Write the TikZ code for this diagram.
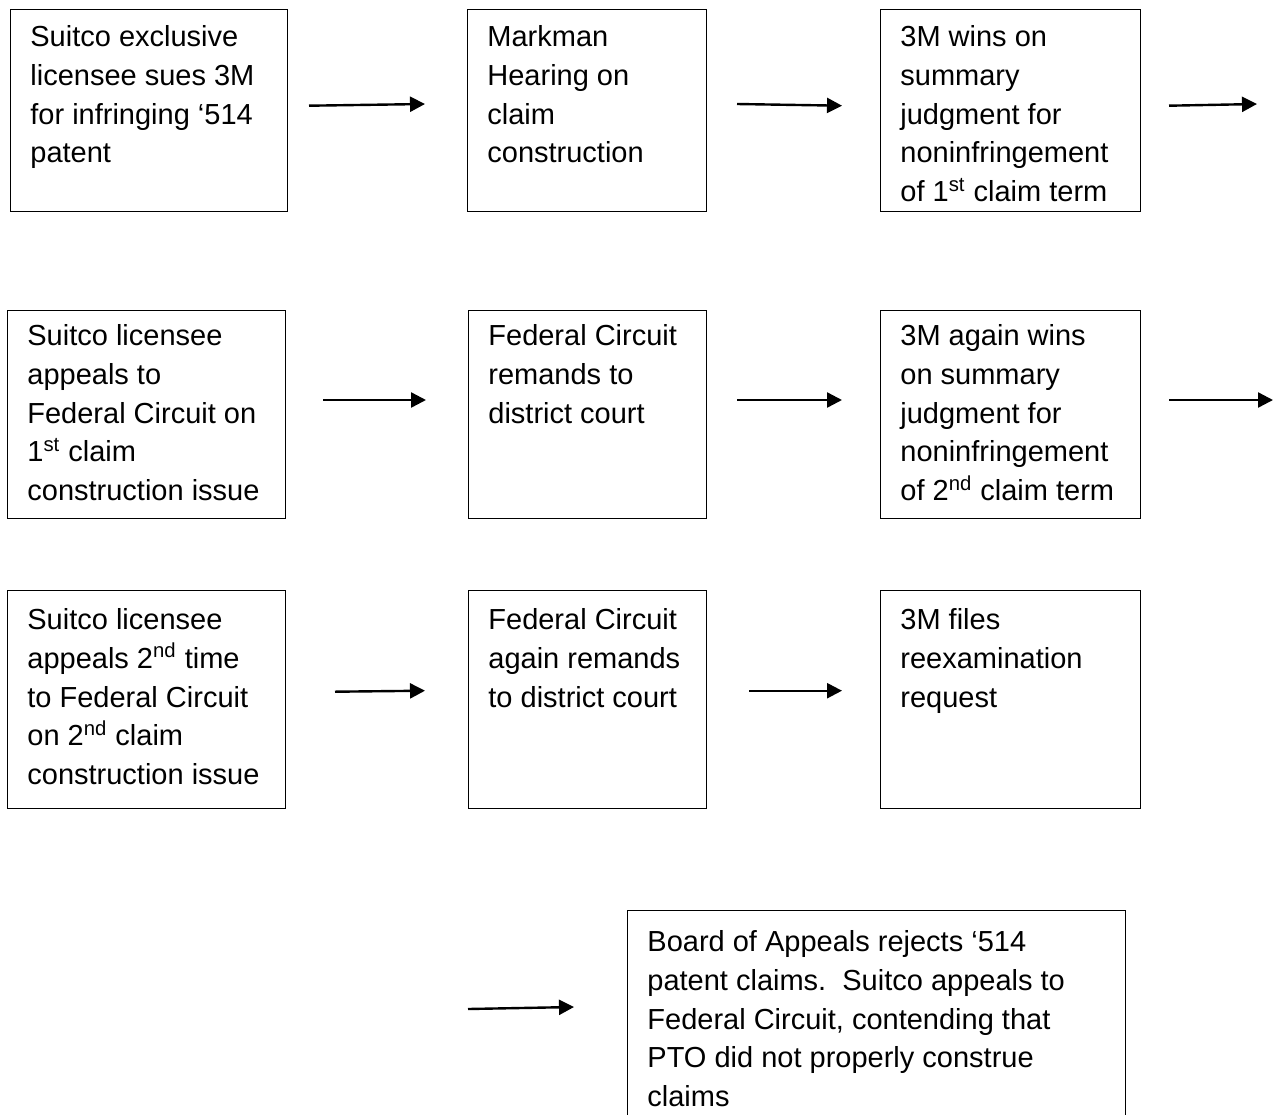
\documentclass[tikz,border=0pt]{standalone}
\usepackage{fontspec}
\setmainfont{Liberation Sans}
\usepackage{tikz}
\usetikzlibrary{arrows.meta,positioning,calc}

\begin{document}
\begin{tikzpicture}[
    x=0.5pt, y=0.5pt,
    box/.style={draw, line width=0.6pt, anchor=north west, inner sep=0pt},
    txt/.style={anchor=north west, inner sep=0pt, align=left, font=\fontsize{14.5pt}{19.4pt}\selectfont},
    arr/.style={-{Triangle[length=7.5pt,width=7.5pt]}, line width=1.2pt}
]
\useasboundingbox (0,0) rectangle (1279,-1114);

% row 1
\node[box, minimum width=138.5pt, minimum height=101pt] (sue) at (10,-9) {};
\node[box, minimum width=119.5pt, minimum height=101pt] (markman) at (467,-9) {};
\node[box, minimum width=130pt, minimum height=101pt] (win1) at (880,-9) {};
\node[txt] (sueT) at ($(sue.north west)+(20,-16)$) {Suitco exclusive\\licensee sues 3M\\for infringing ‘514\\patent};
\node[txt] (markmanT) at ($(markman.north west)+(20,-16)$) {Markman\\Hearing on\\claim\\construction};
\node[txt] (win1T) at ($(win1.north west)+(20,-16)$) {3M wins on\\summary\\judgment for\\noninfringement\\of 1\textsuperscript{st} claim term};

% row 2
\node[box, minimum width=139pt, minimum height=104pt] (appeal1) at (7,-310) {};
\node[box, minimum width=119pt, minimum height=104pt] (remand1) at (468,-310) {};
\node[box, minimum width=130pt, minimum height=104pt] (win2) at (880,-310) {};
\node[txt] (appeal1T) at ($(appeal1.north west)+(20,-14)$) {Suitco licensee\\appeals to\\Federal Circuit on\\1\textsuperscript{st} claim\\construction issue};
\node[txt] (remand1T) at ($(remand1.north west)+(20,-14)$) {Federal Circuit\\remands to\\district court};
\node[txt] (win2T) at ($(win2.north west)+(20,-14)$) {3M again wins\\on summary\\judgment for\\noninfringement\\of 2\textsuperscript{nd} claim term};

% row 3
\node[box, minimum width=139pt, minimum height=109pt] (appeal2) at (7,-590) {};
\node[box, minimum width=119pt, minimum height=109pt] (remand2) at (468,-590) {};
\node[box, minimum width=130pt, minimum height=109pt] (reexam) at (880,-590) {};
\node[txt] (appeal2T) at ($(appeal2.north west)+(20,-18)$) {Suitco licensee\\appeals 2\textsuperscript{nd} time\\to Federal Circuit\\on 2\textsuperscript{nd} claim\\construction issue};
\node[txt] (remand2T) at ($(remand2.north west)+(20,-18)$) {Federal Circuit\\again remands\\to district court};
\node[txt] (reexamT) at ($(reexam.north west)+(20,-18)$) {3M files\\reexamination\\request};

% row 4
\node[box, minimum width=249pt, minimum height=115pt] (board) at (627,-910) {};
\node[txt] (boardT) at ($(board.north west)+(20,-20)$) {Board of Appeals rejects ‘514\\patent claims.\ \ Suitco appeals to\\Federal Circuit, contending that\\PTO did not properly construe\\claims};

% loose arrows
\coordinate (a1s) at (309,-105.7);  \coordinate (a1e) at (425,-104);
\coordinate (a2s) at (737,-104);    \coordinate (a2e) at (842,-105.7);
\coordinate (a3s) at (1169,-105.7); \coordinate (a3e) at (1257,-104);
\coordinate (b1s) at (323,-400);    \coordinate (b1e) at (426,-400);
\coordinate (b2s) at (737,-400);    \coordinate (b2e) at (842,-400);
\coordinate (b3s) at (1169,-400);   \coordinate (b3e) at (1273,-400);
\coordinate (c1s) at (335,-691.7);  \coordinate (c1e) at (425,-690.7);
\coordinate (c2s) at (749,-690.7);  \coordinate (c2e) at (842,-690.7);
\coordinate (d1s) at (468,-1009);   \coordinate (d1e) at (574,-1007);

\draw[arr] (a1s) -- (a1e);
\draw[arr] (a2s) -- (a2e);
\draw[arr] (a3s) -- (a3e);
\draw[arr] (b1s) -- (b1e);
\draw[arr] (b2s) -- (b2e);
\draw[arr] (b3s) -- (b3e);
\draw[arr] (c1s) -- (c1e);
\draw[arr] (c2s) -- (c2e);
\draw[arr] (d1s) -- (d1e);
\end{tikzpicture}
\end{document}
